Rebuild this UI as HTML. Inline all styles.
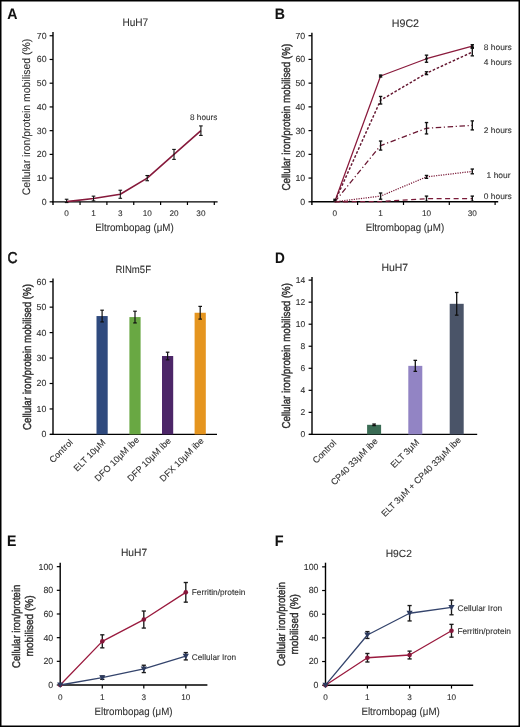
<!DOCTYPE html>
<html><head><meta charset="utf-8"><title>Figure</title>
<style>
html,body{margin:0;padding:0;background:#fff;}
body{width:520px;height:727px;overflow:hidden;}
svg{display:block;font-family:"Liberation Sans",sans-serif;filter:blur(0.25px);text-rendering:geometricPrecision;}
</style></head>
<body>
<svg width="520" height="727" viewBox="0 0 520 727" fill="#303030">
<style>text{stroke:#303030;stroke-width:0.1px;}</style>
<rect width="520" height="727" fill="#fff"/>
<text x="7.2" y="18.9" font-size="15.2" textLength="10.2" lengthAdjust="spacingAndGlyphs" font-weight="bold" fill="#111">A</text>
<text x="135.3" y="26.2" font-size="11" text-anchor="middle" textLength="25.8" lengthAdjust="spacingAndGlyphs">HuH7</text>
<line x1="53" y1="32" x2="53" y2="205.05" stroke="#000" stroke-width="1.4"/>
<line x1="49.6" y1="201.85" x2="53" y2="201.85" stroke="#000" stroke-width="1.2"/>
<text x="46.6" y="204.8" font-size="8.8" text-anchor="end">0</text>
<line x1="49.6" y1="178.12" x2="53" y2="178.12" stroke="#000" stroke-width="1.2"/>
<text x="46.6" y="181.07" font-size="8.8" text-anchor="end">10</text>
<line x1="49.6" y1="154.39" x2="53" y2="154.39" stroke="#000" stroke-width="1.2"/>
<text x="46.6" y="157.34" font-size="8.8" text-anchor="end">20</text>
<line x1="49.6" y1="130.66" x2="53" y2="130.66" stroke="#000" stroke-width="1.2"/>
<text x="46.6" y="133.61" font-size="8.8" text-anchor="end">30</text>
<line x1="49.6" y1="106.93" x2="53" y2="106.93" stroke="#000" stroke-width="1.2"/>
<text x="46.6" y="109.88" font-size="8.8" text-anchor="end">40</text>
<line x1="49.6" y1="83.2" x2="53" y2="83.2" stroke="#000" stroke-width="1.2"/>
<text x="46.6" y="86.15" font-size="8.8" text-anchor="end">50</text>
<line x1="49.6" y1="59.47" x2="53" y2="59.47" stroke="#000" stroke-width="1.2"/>
<text x="46.6" y="62.42" font-size="8.8" text-anchor="end">60</text>
<line x1="49.6" y1="35.74" x2="53" y2="35.74" stroke="#000" stroke-width="1.2"/>
<text x="46.6" y="38.69" font-size="8.8" text-anchor="end">70</text>
<line x1="52.3" y1="201.85" x2="217.6" y2="201.85" stroke="#000" stroke-width="1.4"/>
<line x1="80.05" y1="201.85" x2="80.05" y2="205" stroke="#000" stroke-width="1.2"/>
<line x1="106.9" y1="201.85" x2="106.9" y2="205" stroke="#000" stroke-width="1.2"/>
<line x1="133.75" y1="201.85" x2="133.75" y2="205" stroke="#000" stroke-width="1.2"/>
<line x1="160.6" y1="201.85" x2="160.6" y2="205" stroke="#000" stroke-width="1.2"/>
<line x1="187.45" y1="201.85" x2="187.45" y2="205" stroke="#000" stroke-width="1.2"/>
<line x1="214.3" y1="201.85" x2="214.3" y2="205" stroke="#000" stroke-width="1.2"/>
<text x="66.6" y="216.4" font-size="8.2" text-anchor="middle">0</text>
<text x="93.5" y="216.4" font-size="8.2" text-anchor="middle">1</text>
<text x="120.3" y="216.4" font-size="8.2" text-anchor="middle">3</text>
<text x="147.2" y="216.4" font-size="8.2" text-anchor="middle">10</text>
<text x="174" y="216.4" font-size="8.2" text-anchor="middle">20</text>
<text x="200.9" y="216.4" font-size="8.2" text-anchor="middle">30</text>
<text x="134.5" y="230.8" font-size="10.6" text-anchor="middle" textLength="78.5" lengthAdjust="spacingAndGlyphs">Eltrombopag (μM)</text>
<text x="30.3" y="195.2" font-size="10.9" textLength="156.4" lengthAdjust="spacingAndGlyphs" transform="rotate(-90 30.3 195.2)" style="stroke-width:0.12px">Cellular iron/protein mobilised (%)</text>
<polyline points="66.6,201.61 93.5,198.53 120.3,194.26 147.2,178.12 174,154.39 200.9,130.66" fill="none" stroke="#86193b" stroke-width="1.6" stroke-linejoin="round"/>
<line x1="66.6" y1="199.24" x2="66.6" y2="202.56" stroke="#111" stroke-width="1.1"/>
<line x1="64.8" y1="199.24" x2="68.4" y2="199.24" stroke="#111" stroke-width="1.1"/>
<line x1="64.8" y1="202.56" x2="68.4" y2="202.56" stroke="#111" stroke-width="1.1"/>
<line x1="93.5" y1="196.15" x2="93.5" y2="200.9" stroke="#111" stroke-width="1.1"/>
<line x1="91.7" y1="196.15" x2="95.3" y2="196.15" stroke="#111" stroke-width="1.1"/>
<line x1="91.7" y1="200.9" x2="95.3" y2="200.9" stroke="#111" stroke-width="1.1"/>
<line x1="120.3" y1="190.22" x2="120.3" y2="198.29" stroke="#111" stroke-width="1.1"/>
<line x1="118.5" y1="190.22" x2="122.1" y2="190.22" stroke="#111" stroke-width="1.1"/>
<line x1="118.5" y1="198.29" x2="122.1" y2="198.29" stroke="#111" stroke-width="1.1"/>
<line x1="147.2" y1="175.51" x2="147.2" y2="180.73" stroke="#111" stroke-width="1.1"/>
<line x1="145.4" y1="175.51" x2="149" y2="175.51" stroke="#111" stroke-width="1.1"/>
<line x1="145.4" y1="180.73" x2="149" y2="180.73" stroke="#111" stroke-width="1.1"/>
<line x1="174" y1="149.41" x2="174" y2="159.37" stroke="#111" stroke-width="1.1"/>
<line x1="172.2" y1="149.41" x2="175.8" y2="149.41" stroke="#111" stroke-width="1.1"/>
<line x1="172.2" y1="159.37" x2="175.8" y2="159.37" stroke="#111" stroke-width="1.1"/>
<line x1="200.9" y1="125.91" x2="200.9" y2="135.41" stroke="#111" stroke-width="1.1"/>
<line x1="199.1" y1="125.91" x2="202.7" y2="125.91" stroke="#111" stroke-width="1.1"/>
<line x1="199.1" y1="135.41" x2="202.7" y2="135.41" stroke="#111" stroke-width="1.1"/>
<text x="190" y="120" font-size="8.2" textLength="27.3" lengthAdjust="spacingAndGlyphs">8 hours</text>
<text x="274.8" y="19.1" font-size="15.2" textLength="10.2" lengthAdjust="spacingAndGlyphs" font-weight="bold" fill="#111">B</text>
<text x="405.4" y="26.7" font-size="11" text-anchor="middle" textLength="27.3" lengthAdjust="spacingAndGlyphs">H9C2</text>
<line x1="311.9" y1="32.7" x2="311.9" y2="205" stroke="#000" stroke-width="1.4"/>
<line x1="308.5" y1="201.8" x2="311.9" y2="201.8" stroke="#000" stroke-width="1.2"/>
<text x="305.2" y="204.75" font-size="8.8" text-anchor="end">0</text>
<line x1="308.5" y1="178.07" x2="311.9" y2="178.07" stroke="#000" stroke-width="1.2"/>
<text x="305.2" y="181.02" font-size="8.8" text-anchor="end">10</text>
<line x1="308.5" y1="154.34" x2="311.9" y2="154.34" stroke="#000" stroke-width="1.2"/>
<text x="305.2" y="157.29" font-size="8.8" text-anchor="end">20</text>
<line x1="308.5" y1="130.61" x2="311.9" y2="130.61" stroke="#000" stroke-width="1.2"/>
<text x="305.2" y="133.56" font-size="8.8" text-anchor="end">30</text>
<line x1="308.5" y1="106.88" x2="311.9" y2="106.88" stroke="#000" stroke-width="1.2"/>
<text x="305.2" y="109.83" font-size="8.8" text-anchor="end">40</text>
<line x1="308.5" y1="83.15" x2="311.9" y2="83.15" stroke="#000" stroke-width="1.2"/>
<text x="305.2" y="86.1" font-size="8.8" text-anchor="end">50</text>
<line x1="308.5" y1="59.42" x2="311.9" y2="59.42" stroke="#000" stroke-width="1.2"/>
<text x="305.2" y="62.37" font-size="8.8" text-anchor="end">60</text>
<line x1="308.5" y1="35.69" x2="311.9" y2="35.69" stroke="#000" stroke-width="1.2"/>
<text x="305.2" y="38.64" font-size="8.8" text-anchor="end">70</text>
<line x1="311.2" y1="201.8" x2="498.2" y2="201.8" stroke="#000" stroke-width="1.4"/>
<line x1="357.6" y1="201.8" x2="357.6" y2="205" stroke="#000" stroke-width="1.2"/>
<line x1="403.5" y1="201.8" x2="403.5" y2="205" stroke="#000" stroke-width="1.2"/>
<line x1="449.3" y1="201.8" x2="449.3" y2="205" stroke="#000" stroke-width="1.2"/>
<line x1="495.1" y1="201.8" x2="495.1" y2="205" stroke="#000" stroke-width="1.2"/>
<text x="334.7" y="216.4" font-size="8.2" text-anchor="middle">0</text>
<text x="380.6" y="216.4" font-size="8.2" text-anchor="middle">1</text>
<text x="426.5" y="216.4" font-size="8.2" text-anchor="middle">10</text>
<text x="472.3" y="216.4" font-size="8.2" text-anchor="middle">30</text>
<text x="404.9" y="230.8" font-size="10.6" text-anchor="middle" textLength="78.5" lengthAdjust="spacingAndGlyphs">Eltrombopag (μM)</text>
<text x="289.9" y="190.6" font-size="11.4" textLength="146.8" lengthAdjust="spacingAndGlyphs" transform="rotate(-90 289.9 190.6)" style="stroke-width:0.42px">Cellular iron/protein mobilised (%)</text>
<polyline points="334.7,201.8 380.6,76.03 426.5,58.71 472.3,46.13" fill="none" stroke="#8a1a3c" stroke-width="1.25" stroke-linejoin="round"/>
<line x1="380.6" y1="75.08" x2="380.6" y2="76.98" stroke="#111" stroke-width="1.35"/>
<line x1="378.9" y1="75.08" x2="382.3" y2="75.08" stroke="#111" stroke-width="1.35"/>
<line x1="378.9" y1="76.98" x2="382.3" y2="76.98" stroke="#111" stroke-width="1.35"/>
<line x1="426.5" y1="55.15" x2="426.5" y2="62.27" stroke="#111" stroke-width="1.35"/>
<line x1="424.8" y1="55.15" x2="428.2" y2="55.15" stroke="#111" stroke-width="1.35"/>
<line x1="424.8" y1="62.27" x2="428.2" y2="62.27" stroke="#111" stroke-width="1.35"/>
<line x1="472.3" y1="44.71" x2="472.3" y2="47.56" stroke="#111" stroke-width="1.35"/>
<line x1="470.6" y1="44.71" x2="474" y2="44.71" stroke="#111" stroke-width="1.35"/>
<line x1="470.6" y1="47.56" x2="474" y2="47.56" stroke="#111" stroke-width="1.35"/>
<polyline points="334.7,201.8 380.6,100.24 426.5,73.18 472.3,52.06" fill="none" stroke="#641630" stroke-width="1.45" stroke-linejoin="round" stroke-dasharray="2.6,1.8"/>
<line x1="380.6" y1="96.44" x2="380.6" y2="104.03" stroke="#111" stroke-width="1.35"/>
<line x1="378.9" y1="96.44" x2="382.3" y2="96.44" stroke="#111" stroke-width="1.35"/>
<line x1="378.9" y1="104.03" x2="382.3" y2="104.03" stroke="#111" stroke-width="1.35"/>
<line x1="426.5" y1="71.76" x2="426.5" y2="74.61" stroke="#111" stroke-width="1.35"/>
<line x1="424.8" y1="71.76" x2="428.2" y2="71.76" stroke="#111" stroke-width="1.35"/>
<line x1="424.8" y1="74.61" x2="428.2" y2="74.61" stroke="#111" stroke-width="1.35"/>
<line x1="472.3" y1="48.27" x2="472.3" y2="55.86" stroke="#111" stroke-width="1.35"/>
<line x1="470.6" y1="48.27" x2="474" y2="48.27" stroke="#111" stroke-width="1.35"/>
<line x1="470.6" y1="55.86" x2="474" y2="55.86" stroke="#111" stroke-width="1.35"/>
<polyline points="334.7,201.8 380.6,145.56 426.5,128.24 472.3,125.39" fill="none" stroke="#6a1732" stroke-width="1.3" stroke-linejoin="round" stroke-dasharray="5.5,2.6,1.2,2.6"/>
<line x1="380.6" y1="141.05" x2="380.6" y2="150.07" stroke="#111" stroke-width="1.35"/>
<line x1="378.9" y1="141.05" x2="382.3" y2="141.05" stroke="#111" stroke-width="1.35"/>
<line x1="378.9" y1="150.07" x2="382.3" y2="150.07" stroke="#111" stroke-width="1.35"/>
<line x1="426.5" y1="122.54" x2="426.5" y2="133.93" stroke="#111" stroke-width="1.35"/>
<line x1="424.8" y1="122.54" x2="428.2" y2="122.54" stroke="#111" stroke-width="1.35"/>
<line x1="424.8" y1="133.93" x2="428.2" y2="133.93" stroke="#111" stroke-width="1.35"/>
<line x1="472.3" y1="120.88" x2="472.3" y2="129.9" stroke="#111" stroke-width="1.35"/>
<line x1="470.6" y1="120.88" x2="474" y2="120.88" stroke="#111" stroke-width="1.35"/>
<line x1="470.6" y1="129.9" x2="474" y2="129.9" stroke="#111" stroke-width="1.35"/>
<polyline points="334.7,201.8 380.6,196.1 426.5,176.88 472.3,171.43" fill="none" stroke="#7a1a38" stroke-width="1.25" stroke-linejoin="round" stroke-dasharray="1.2,1.2"/>
<line x1="380.6" y1="193.02" x2="380.6" y2="199.19" stroke="#111" stroke-width="1.35"/>
<line x1="378.9" y1="193.02" x2="382.3" y2="193.02" stroke="#111" stroke-width="1.35"/>
<line x1="378.9" y1="199.19" x2="382.3" y2="199.19" stroke="#111" stroke-width="1.35"/>
<line x1="426.5" y1="175.46" x2="426.5" y2="178.31" stroke="#111" stroke-width="1.35"/>
<line x1="424.8" y1="175.46" x2="428.2" y2="175.46" stroke="#111" stroke-width="1.35"/>
<line x1="424.8" y1="178.31" x2="428.2" y2="178.31" stroke="#111" stroke-width="1.35"/>
<line x1="472.3" y1="169.05" x2="472.3" y2="173.8" stroke="#111" stroke-width="1.35"/>
<line x1="470.6" y1="169.05" x2="474" y2="169.05" stroke="#111" stroke-width="1.35"/>
<line x1="470.6" y1="173.8" x2="474" y2="173.8" stroke="#111" stroke-width="1.35"/>
<polyline points="334.7,201.8 380.6,201.56 426.5,198.72 472.3,198.72" fill="none" stroke="#7a1a38" stroke-width="1.3" stroke-linejoin="round" stroke-dasharray="5,3.5"/>
<line x1="426.5" y1="196.1" x2="426.5" y2="201.33" stroke="#111" stroke-width="1.35"/>
<line x1="424.8" y1="196.1" x2="428.2" y2="196.1" stroke="#111" stroke-width="1.35"/>
<line x1="424.8" y1="201.33" x2="428.2" y2="201.33" stroke="#111" stroke-width="1.35"/>
<line x1="472.3" y1="196.1" x2="472.3" y2="201.33" stroke="#111" stroke-width="1.35"/>
<line x1="470.6" y1="196.1" x2="474" y2="196.1" stroke="#111" stroke-width="1.35"/>
<line x1="470.6" y1="201.33" x2="474" y2="201.33" stroke="#111" stroke-width="1.35"/>
<circle cx="380.6" cy="76.03" r="1.3" fill="#111"/>
<circle cx="426.5" cy="58.71" r="1.3" fill="#111"/>
<circle cx="472.3" cy="46.13" r="1.3" fill="#111"/>
<rect x="333.3" y="198.6" width="3" height="3" fill="#111"/>
<text x="483.8" y="49.5" font-size="8.2" textLength="28" lengthAdjust="spacingAndGlyphs">8 hours</text>
<text x="483.8" y="64.6" font-size="8.2" textLength="28" lengthAdjust="spacingAndGlyphs">4 hours</text>
<text x="483.8" y="133" font-size="8.2" textLength="28" lengthAdjust="spacingAndGlyphs">2 hours</text>
<text x="486.6" y="178.2" font-size="8.2" textLength="24" lengthAdjust="spacingAndGlyphs">1 hour</text>
<text x="483.8" y="199.4" font-size="8.2" textLength="28" lengthAdjust="spacingAndGlyphs">0 hours</text>
<text x="7.4" y="262.6" font-size="15.6" textLength="10" lengthAdjust="spacingAndGlyphs" fill="#111" style="stroke:#111;stroke-width:0.55px">C</text>
<text x="133.2" y="272.5" font-size="10.4" text-anchor="middle" textLength="35.6" lengthAdjust="spacingAndGlyphs">RINm5F</text>
<line x1="53" y1="278.6" x2="53" y2="434.4" stroke="#000" stroke-width="1.4"/>
<line x1="49.6" y1="434.4" x2="53" y2="434.4" stroke="#000" stroke-width="1.2"/>
<text x="46.4" y="437.35" font-size="8.8" text-anchor="end">0</text>
<line x1="49.6" y1="408.95" x2="53" y2="408.95" stroke="#000" stroke-width="1.2"/>
<text x="46.4" y="411.9" font-size="8.8" text-anchor="end">10</text>
<line x1="49.6" y1="383.5" x2="53" y2="383.5" stroke="#000" stroke-width="1.2"/>
<text x="46.4" y="386.45" font-size="8.8" text-anchor="end">20</text>
<line x1="49.6" y1="358.05" x2="53" y2="358.05" stroke="#000" stroke-width="1.2"/>
<text x="46.4" y="361" font-size="8.8" text-anchor="end">30</text>
<line x1="49.6" y1="332.6" x2="53" y2="332.6" stroke="#000" stroke-width="1.2"/>
<text x="46.4" y="335.55" font-size="8.8" text-anchor="end">40</text>
<line x1="49.6" y1="307.15" x2="53" y2="307.15" stroke="#000" stroke-width="1.2"/>
<text x="46.4" y="310.1" font-size="8.8" text-anchor="end">50</text>
<line x1="49.6" y1="281.7" x2="53" y2="281.7" stroke="#000" stroke-width="1.2"/>
<text x="46.4" y="284.65" font-size="8.8" text-anchor="end">60</text>
<line x1="50" y1="434.4" x2="217" y2="434.4" stroke="#000" stroke-width="1.4"/>
<text x="30.7" y="430" font-size="11.4" textLength="146" lengthAdjust="spacingAndGlyphs" transform="rotate(-90 30.7 430)" style="stroke-width:0.45px">Cellular iron/protein mobilised (%)</text>
<rect x="96.5" y="316.06" width="11.2" height="118.34" fill="#2f4a7e"/>
<rect x="129.4" y="317.08" width="11.2" height="117.32" fill="#69a843"/>
<rect x="162" y="356.01" width="11.2" height="78.39" fill="#4c2668"/>
<rect x="194.6" y="312.75" width="11.2" height="121.65" fill="#e5951f"/>
<line x1="102.1" y1="310.2" x2="102.1" y2="321.91" stroke="#111" stroke-width="1.2"/>
<line x1="100.3" y1="310.2" x2="103.9" y2="310.2" stroke="#111" stroke-width="1.2"/>
<line x1="100.3" y1="321.91" x2="103.9" y2="321.91" stroke="#111" stroke-width="1.2"/>
<line x1="135" y1="311.22" x2="135" y2="322.93" stroke="#111" stroke-width="1.2"/>
<line x1="133.2" y1="311.22" x2="136.8" y2="311.22" stroke="#111" stroke-width="1.2"/>
<line x1="133.2" y1="322.93" x2="136.8" y2="322.93" stroke="#111" stroke-width="1.2"/>
<line x1="167.6" y1="352.2" x2="167.6" y2="359.83" stroke="#111" stroke-width="1.2"/>
<line x1="165.8" y1="352.2" x2="169.4" y2="352.2" stroke="#111" stroke-width="1.2"/>
<line x1="165.8" y1="359.83" x2="169.4" y2="359.83" stroke="#111" stroke-width="1.2"/>
<line x1="200.2" y1="306.39" x2="200.2" y2="319.11" stroke="#111" stroke-width="1.2"/>
<line x1="198.4" y1="306.39" x2="202" y2="306.39" stroke="#111" stroke-width="1.2"/>
<line x1="198.4" y1="319.11" x2="202" y2="319.11" stroke="#111" stroke-width="1.2"/>
<text x="73.4" y="443" font-size="9" text-anchor="end" transform="rotate(-45 73.4 443)">Control</text>
<text x="106.1" y="443" font-size="9" text-anchor="end" transform="rotate(-45 106.1 443)">ELT 10μM</text>
<text x="139.7" y="440.4" font-size="9" text-anchor="end" transform="rotate(-45 139.7 440.4)">DFO 10μM ibe</text>
<text x="171.6" y="441.4" font-size="9" text-anchor="end" transform="rotate(-45 171.6 441.4)">DFP 10μM ibe</text>
<text x="204.2" y="441.4" font-size="9" text-anchor="end" transform="rotate(-45 204.2 441.4)">DFX 10μM ibe</text>
<text x="274.9" y="262.7" font-size="15.2" textLength="9.8" lengthAdjust="spacingAndGlyphs" font-weight="bold" fill="#111">D</text>
<text x="394.8" y="270.8" font-size="10.4" text-anchor="middle" textLength="26.8" lengthAdjust="spacingAndGlyphs">HuH7</text>
<line x1="312" y1="277" x2="312" y2="434.4" stroke="#000" stroke-width="1.4"/>
<line x1="308.6" y1="434.4" x2="312" y2="434.4" stroke="#000" stroke-width="1.2"/>
<text x="305.3" y="437.35" font-size="8.5" text-anchor="end">0</text>
<line x1="308.6" y1="412.36" x2="312" y2="412.36" stroke="#000" stroke-width="1.2"/>
<text x="305.3" y="415.31" font-size="8.5" text-anchor="end">2</text>
<line x1="308.6" y1="390.32" x2="312" y2="390.32" stroke="#000" stroke-width="1.2"/>
<text x="305.3" y="393.27" font-size="8.5" text-anchor="end">4</text>
<line x1="308.6" y1="368.28" x2="312" y2="368.28" stroke="#000" stroke-width="1.2"/>
<text x="305.3" y="371.23" font-size="8.5" text-anchor="end">6</text>
<line x1="308.6" y1="346.24" x2="312" y2="346.24" stroke="#000" stroke-width="1.2"/>
<text x="305.3" y="349.19" font-size="8.5" text-anchor="end">8</text>
<line x1="308.6" y1="324.2" x2="312" y2="324.2" stroke="#000" stroke-width="1.2"/>
<text x="305.3" y="327.15" font-size="8.5" text-anchor="end">10</text>
<line x1="308.6" y1="302.16" x2="312" y2="302.16" stroke="#000" stroke-width="1.2"/>
<text x="305.3" y="305.11" font-size="8.5" text-anchor="end">12</text>
<line x1="308.6" y1="280.12" x2="312" y2="280.12" stroke="#000" stroke-width="1.2"/>
<text x="305.3" y="283.07" font-size="8.5" text-anchor="end">14</text>
<line x1="309" y1="434.4" x2="477.2" y2="434.4" stroke="#000" stroke-width="1.4"/>
<text x="290.4" y="428.6" font-size="11.4" textLength="145.6" lengthAdjust="spacingAndGlyphs" transform="rotate(-90 290.4 428.6)" style="stroke-width:0.45px">Cellular iron/protein mobilised (%)</text>
<rect x="367.1" y="424.81" width="14" height="9.59" fill="#3b6c55"/>
<rect x="408.3" y="365.86" width="14" height="68.54" fill="#9284c4"/>
<rect x="449.7" y="303.81" width="14" height="130.59" fill="#4a5468"/>
<line x1="374.1" y1="424.04" x2="374.1" y2="425.58" stroke="#111" stroke-width="1.3"/>
<line x1="372.3" y1="424.04" x2="375.9" y2="424.04" stroke="#111" stroke-width="1.3"/>
<line x1="372.3" y1="425.58" x2="375.9" y2="425.58" stroke="#111" stroke-width="1.3"/>
<line x1="415.3" y1="360.35" x2="415.3" y2="371.37" stroke="#111" stroke-width="1.3"/>
<line x1="413.5" y1="360.35" x2="417.1" y2="360.35" stroke="#111" stroke-width="1.3"/>
<line x1="413.5" y1="371.37" x2="417.1" y2="371.37" stroke="#111" stroke-width="1.3"/>
<line x1="456.7" y1="292.46" x2="456.7" y2="315.16" stroke="#111" stroke-width="1.3"/>
<line x1="454.9" y1="292.46" x2="458.5" y2="292.46" stroke="#111" stroke-width="1.3"/>
<line x1="454.9" y1="315.16" x2="458.5" y2="315.16" stroke="#111" stroke-width="1.3"/>
<text x="336.8" y="443.5" font-size="9" text-anchor="end" transform="rotate(-45 336.8 443.5)">Control</text>
<text x="378.4" y="441.8" font-size="9" text-anchor="end" transform="rotate(-45 378.4 441.8)">CP40 33μM ibe</text>
<text x="419.7" y="443" font-size="9" text-anchor="end" transform="rotate(-45 419.7 443)">ELT 3μM</text>
<text x="461.5" y="440.7" font-size="9" text-anchor="end" transform="rotate(-45 461.5 440.7)">ELT 3μM + CP40 33μM ibe</text>
<text x="6.9" y="546.1" font-size="15.2" textLength="9.4" lengthAdjust="spacingAndGlyphs" font-weight="bold" fill="#111">E</text>
<text x="134" y="556.1" font-size="10.4" text-anchor="middle" textLength="26.2" lengthAdjust="spacingAndGlyphs">HuH7</text>
<line x1="60.2" y1="562.7" x2="60.2" y2="685" stroke="#000" stroke-width="1.4"/>
<line x1="56.8" y1="685" x2="60.2" y2="685" stroke="#000" stroke-width="1.2"/>
<text x="53.2" y="687.95" font-size="8.8" text-anchor="end">0</text>
<line x1="56.8" y1="661.33" x2="60.2" y2="661.33" stroke="#000" stroke-width="1.2"/>
<text x="53.2" y="664.28" font-size="8.8" text-anchor="end">20</text>
<line x1="56.8" y1="637.66" x2="60.2" y2="637.66" stroke="#000" stroke-width="1.2"/>
<text x="53.2" y="640.61" font-size="8.8" text-anchor="end">40</text>
<line x1="56.8" y1="613.99" x2="60.2" y2="613.99" stroke="#000" stroke-width="1.2"/>
<text x="53.2" y="616.94" font-size="8.8" text-anchor="end">60</text>
<line x1="56.8" y1="590.32" x2="60.2" y2="590.32" stroke="#000" stroke-width="1.2"/>
<text x="53.2" y="593.27" font-size="8.8" text-anchor="end">80</text>
<line x1="56.8" y1="566.65" x2="60.2" y2="566.65" stroke="#000" stroke-width="1.2"/>
<text x="53.2" y="569.6" font-size="8.8" text-anchor="end">100</text>
<line x1="60.2" y1="685" x2="207.4" y2="685" stroke="#000" stroke-width="1.4"/>
<line x1="102.3" y1="685" x2="102.3" y2="688.4" stroke="#000" stroke-width="1.2"/>
<line x1="143.8" y1="685" x2="143.8" y2="688.4" stroke="#000" stroke-width="1.2"/>
<line x1="185.8" y1="685" x2="185.8" y2="688.4" stroke="#000" stroke-width="1.2"/>
<text x="60.2" y="700" font-size="8.2" text-anchor="middle">0</text>
<text x="102.3" y="700" font-size="8.2" text-anchor="middle">1</text>
<text x="143.8" y="700" font-size="8.2" text-anchor="middle">3</text>
<text x="185.8" y="700" font-size="8.2" text-anchor="middle">10</text>
<text x="133.5" y="715.2" font-size="10.6" text-anchor="middle" textLength="78" lengthAdjust="spacingAndGlyphs">Eltrombopag (μM)</text>
<text x="20.4" y="668" font-size="11.2" textLength="83.4" lengthAdjust="spacingAndGlyphs" transform="rotate(-90 20.4 668)" style="stroke-width:0.42px">Cellular iron/protein</text>
<text x="33" y="656.4" font-size="11.2" textLength="61" lengthAdjust="spacingAndGlyphs" transform="rotate(-90 33 656.4)" style="stroke-width:0.42px">mobilised (%)</text>
<polyline points="60.2,685 102.3,641.33 143.8,619.55 185.8,592.33" fill="none" stroke="#9a1a3e" stroke-width="1.3" stroke-linejoin="round"/>
<polyline points="60.2,685 102.3,677.66 143.8,668.9 185.8,656.24" fill="none" stroke="#34446c" stroke-width="1.3" stroke-linejoin="round"/>
<line x1="102.3" y1="634.82" x2="102.3" y2="647.84" stroke="#1a1a1a" stroke-width="1.35"/>
<line x1="100.2" y1="634.82" x2="104.4" y2="634.82" stroke="#1a1a1a" stroke-width="1.35"/>
<line x1="100.2" y1="647.84" x2="104.4" y2="647.84" stroke="#1a1a1a" stroke-width="1.35"/>
<line x1="143.8" y1="611.03" x2="143.8" y2="628.07" stroke="#1a1a1a" stroke-width="1.35"/>
<line x1="141.7" y1="611.03" x2="145.9" y2="611.03" stroke="#1a1a1a" stroke-width="1.35"/>
<line x1="141.7" y1="628.07" x2="145.9" y2="628.07" stroke="#1a1a1a" stroke-width="1.35"/>
<line x1="185.8" y1="582.51" x2="185.8" y2="602.15" stroke="#1a1a1a" stroke-width="1.35"/>
<line x1="183.7" y1="582.51" x2="187.9" y2="582.51" stroke="#1a1a1a" stroke-width="1.35"/>
<line x1="183.7" y1="602.15" x2="187.9" y2="602.15" stroke="#1a1a1a" stroke-width="1.35"/>
<line x1="102.3" y1="676.01" x2="102.3" y2="679.32" stroke="#1a1a1a" stroke-width="1.35"/>
<line x1="100.2" y1="676.01" x2="104.4" y2="676.01" stroke="#1a1a1a" stroke-width="1.35"/>
<line x1="100.2" y1="679.32" x2="104.4" y2="679.32" stroke="#1a1a1a" stroke-width="1.35"/>
<line x1="143.8" y1="665.24" x2="143.8" y2="672.57" stroke="#1a1a1a" stroke-width="1.35"/>
<line x1="141.7" y1="665.24" x2="145.9" y2="665.24" stroke="#1a1a1a" stroke-width="1.35"/>
<line x1="141.7" y1="672.57" x2="145.9" y2="672.57" stroke="#1a1a1a" stroke-width="1.35"/>
<line x1="185.8" y1="652.57" x2="185.8" y2="659.91" stroke="#1a1a1a" stroke-width="1.35"/>
<line x1="183.7" y1="652.57" x2="187.9" y2="652.57" stroke="#1a1a1a" stroke-width="1.35"/>
<line x1="183.7" y1="659.91" x2="187.9" y2="659.91" stroke="#1a1a1a" stroke-width="1.35"/>
<circle cx="60.2" cy="685" r="2.3" fill="#86163a"/>
<circle cx="102.3" cy="641.33" r="2.3" fill="#86163a"/>
<circle cx="143.8" cy="619.55" r="2.3" fill="#86163a"/>
<circle cx="185.8" cy="592.33" r="2.3" fill="#86163a"/>
<path d="M57.1,682.52 L63.3,682.52 L60.2,688.1 Z" fill="#2c3a5e"/>
<path d="M99.2,675.18 L105.4,675.18 L102.3,680.76 Z" fill="#2c3a5e"/>
<path d="M140.7,666.42 L146.9,666.42 L143.8,672 Z" fill="#2c3a5e"/>
<path d="M182.7,653.76 L188.9,653.76 L185.8,659.34 Z" fill="#2c3a5e"/>
<text x="191.8" y="595.4" font-size="8.3" textLength="53.6" lengthAdjust="spacingAndGlyphs">Ferritin/protein</text>
<text x="191.8" y="659.7" font-size="8.3" textLength="44.4" lengthAdjust="spacingAndGlyphs">Cellular Iron</text>
<text x="274.7" y="546.1" font-size="15.2" textLength="8.8" lengthAdjust="spacingAndGlyphs" font-weight="bold" fill="#111">F</text>
<text x="398.8" y="556.7" font-size="10.4" text-anchor="middle" textLength="26.2" lengthAdjust="spacingAndGlyphs">H9C2</text>
<line x1="325.5" y1="562.7" x2="325.5" y2="685.2" stroke="#000" stroke-width="1.4"/>
<line x1="322.1" y1="685.2" x2="325.5" y2="685.2" stroke="#000" stroke-width="1.2"/>
<text x="318.5" y="688.15" font-size="8.8" text-anchor="end">0</text>
<line x1="322.1" y1="661.53" x2="325.5" y2="661.53" stroke="#000" stroke-width="1.2"/>
<text x="318.5" y="664.48" font-size="8.8" text-anchor="end">20</text>
<line x1="322.1" y1="637.86" x2="325.5" y2="637.86" stroke="#000" stroke-width="1.2"/>
<text x="318.5" y="640.81" font-size="8.8" text-anchor="end">40</text>
<line x1="322.1" y1="614.19" x2="325.5" y2="614.19" stroke="#000" stroke-width="1.2"/>
<text x="318.5" y="617.14" font-size="8.8" text-anchor="end">60</text>
<line x1="322.1" y1="590.52" x2="325.5" y2="590.52" stroke="#000" stroke-width="1.2"/>
<text x="318.5" y="593.47" font-size="8.8" text-anchor="end">80</text>
<line x1="322.1" y1="566.85" x2="325.5" y2="566.85" stroke="#000" stroke-width="1.2"/>
<text x="318.5" y="569.8" font-size="8.8" text-anchor="end">100</text>
<line x1="325.5" y1="685.2" x2="473.2" y2="685.2" stroke="#000" stroke-width="1.4"/>
<line x1="367.4" y1="685.2" x2="367.4" y2="688.6" stroke="#000" stroke-width="1.2"/>
<line x1="409.6" y1="685.2" x2="409.6" y2="688.6" stroke="#000" stroke-width="1.2"/>
<line x1="451.5" y1="685.2" x2="451.5" y2="688.6" stroke="#000" stroke-width="1.2"/>
<text x="325.5" y="700.2" font-size="8.2" text-anchor="middle">0</text>
<text x="367.4" y="700.2" font-size="8.2" text-anchor="middle">1</text>
<text x="409.6" y="700.2" font-size="8.2" text-anchor="middle">3</text>
<text x="451.5" y="700.2" font-size="8.2" text-anchor="middle">10</text>
<text x="400.6" y="714.9" font-size="10.6" text-anchor="middle" textLength="78.4" lengthAdjust="spacingAndGlyphs">Eltrombopag (μM)</text>
<text x="284.8" y="666" font-size="11.2" textLength="84" lengthAdjust="spacingAndGlyphs" transform="rotate(-90 284.8 666)" style="stroke-width:0.42px">Cellular iron/protein</text>
<text x="297.8" y="654.5" font-size="11.2" textLength="60.4" lengthAdjust="spacingAndGlyphs" transform="rotate(-90 297.8 654.5)" style="stroke-width:0.42px">mobilised (%)</text>
<polyline points="325.5,685.2 367.4,635.02 409.6,613.24 451.5,607.44" fill="none" stroke="#34446c" stroke-width="1.3" stroke-linejoin="round"/>
<polyline points="325.5,685.2 367.4,657.74 409.6,655.02 451.5,630.76" fill="none" stroke="#9a1a3e" stroke-width="1.3" stroke-linejoin="round"/>
<line x1="367.4" y1="631.59" x2="367.4" y2="638.45" stroke="#1a1a1a" stroke-width="1.35"/>
<line x1="365.3" y1="631.59" x2="369.5" y2="631.59" stroke="#1a1a1a" stroke-width="1.35"/>
<line x1="365.3" y1="638.45" x2="369.5" y2="638.45" stroke="#1a1a1a" stroke-width="1.35"/>
<line x1="409.6" y1="605.55" x2="409.6" y2="620.94" stroke="#1a1a1a" stroke-width="1.35"/>
<line x1="407.5" y1="605.55" x2="411.7" y2="605.55" stroke="#1a1a1a" stroke-width="1.35"/>
<line x1="407.5" y1="620.94" x2="411.7" y2="620.94" stroke="#1a1a1a" stroke-width="1.35"/>
<line x1="451.5" y1="600.11" x2="451.5" y2="614.78" stroke="#1a1a1a" stroke-width="1.35"/>
<line x1="449.4" y1="600.11" x2="453.6" y2="600.11" stroke="#1a1a1a" stroke-width="1.35"/>
<line x1="449.4" y1="614.78" x2="453.6" y2="614.78" stroke="#1a1a1a" stroke-width="1.35"/>
<line x1="367.4" y1="653.48" x2="367.4" y2="662" stroke="#1a1a1a" stroke-width="1.35"/>
<line x1="365.3" y1="653.48" x2="369.5" y2="653.48" stroke="#1a1a1a" stroke-width="1.35"/>
<line x1="365.3" y1="662" x2="369.5" y2="662" stroke="#1a1a1a" stroke-width="1.35"/>
<line x1="409.6" y1="651.12" x2="409.6" y2="658.93" stroke="#1a1a1a" stroke-width="1.35"/>
<line x1="407.5" y1="651.12" x2="411.7" y2="651.12" stroke="#1a1a1a" stroke-width="1.35"/>
<line x1="407.5" y1="658.93" x2="411.7" y2="658.93" stroke="#1a1a1a" stroke-width="1.35"/>
<line x1="451.5" y1="624.37" x2="451.5" y2="637.15" stroke="#1a1a1a" stroke-width="1.35"/>
<line x1="449.4" y1="624.37" x2="453.6" y2="624.37" stroke="#1a1a1a" stroke-width="1.35"/>
<line x1="449.4" y1="637.15" x2="453.6" y2="637.15" stroke="#1a1a1a" stroke-width="1.35"/>
<circle cx="325.5" cy="685.2" r="2.3" fill="#86163a"/>
<circle cx="367.4" cy="657.74" r="2.3" fill="#86163a"/>
<circle cx="409.6" cy="655.02" r="2.3" fill="#86163a"/>
<circle cx="451.5" cy="630.76" r="2.3" fill="#86163a"/>
<path d="M322.4,682.72 L328.6,682.72 L325.5,688.3 Z" fill="#2c3a5e"/>
<path d="M364.3,632.54 L370.5,632.54 L367.4,638.12 Z" fill="#2c3a5e"/>
<path d="M406.5,610.76 L412.7,610.76 L409.6,616.34 Z" fill="#2c3a5e"/>
<path d="M448.4,604.96 L454.6,604.96 L451.5,610.54 Z" fill="#2c3a5e"/>
<text x="457.4" y="610.6" font-size="8.3" textLength="44.8" lengthAdjust="spacingAndGlyphs">Cellular Iron</text>
<text x="457.4" y="633.5" font-size="8.3" textLength="53.6" lengthAdjust="spacingAndGlyphs">Ferritin/protein</text>
<rect x="0.75" y="0.75" width="518.5" height="725.5" fill="none" stroke="#000" stroke-width="1.5"/>
</svg>
</body></html>
